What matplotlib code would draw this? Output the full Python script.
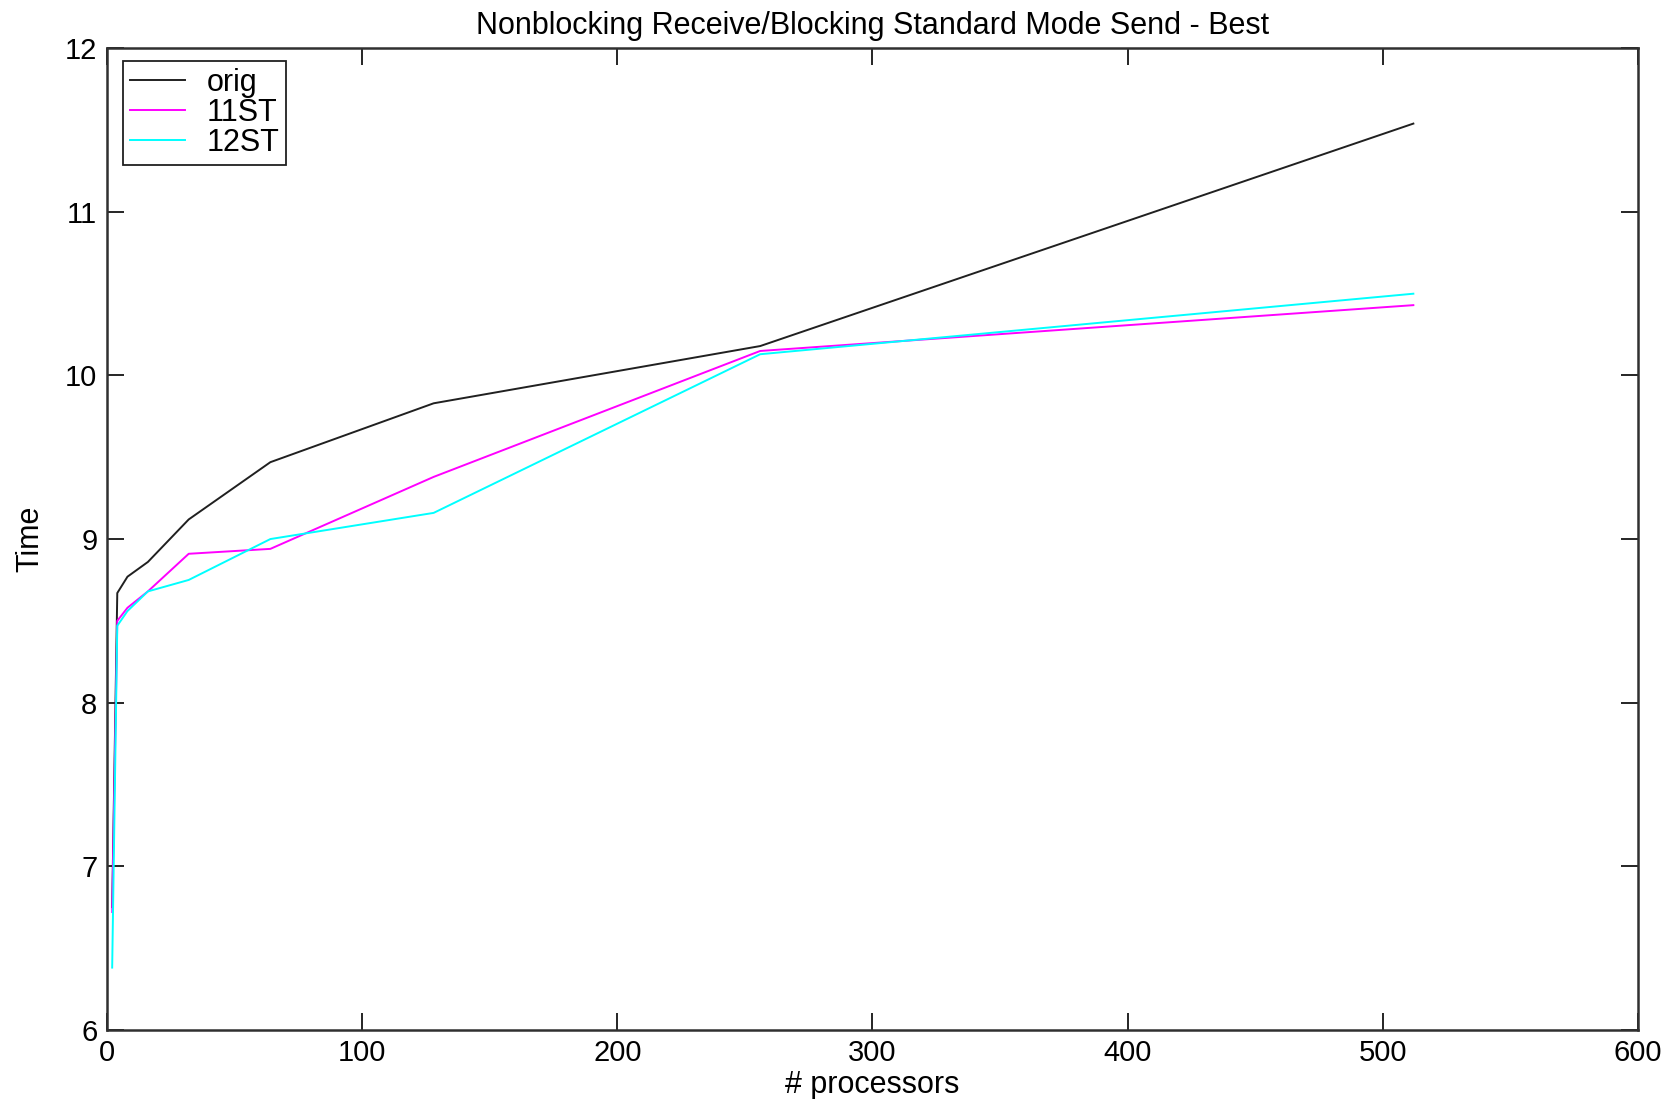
import matplotlib
matplotlib.use("Agg")
import matplotlib.pyplot as plt

# data
procs = [2, 4, 8, 16, 32, 64, 128, 256, 512]
orig = [6.75, 8.67, 8.77, 8.86, 9.12, 9.47, 9.83, 10.18, 11.54]
st11 = [6.72, 8.50, 8.58, 8.68, 8.91, 8.94, 9.38, 10.15, 10.43]
st12 = [6.38, 8.47, 8.56, 8.68, 8.75, 9.00, 9.16, 10.13, 10.50]

xticks = [0, 100, 200, 300, 400, 500, 600]
yticks = [6, 7, 8, 9, 10, 11, 12]

plt.rcParams['font.family'] = ['Liberation Sans', 'DejaVu Sans']

fig = plt.figure(figsize=(16.73, 10.99), dpi=100)
ax = fig.add_axes([0.064, 0.063, 0.915, 0.893])

ax.plot(procs, orig, color='#202020', lw=1.4, label='orig')
ax.plot(procs, st11, color='#ff00ff', lw=1.4, label='11ST')
ax.plot(procs, st12, color='#00ffff', lw=1.4, label='12ST')

ax.set_xlim(0, 600)
ax.set_ylim(6, 12)
ax.set_xticks(xticks)
ax.set_yticks(yticks)
ax.tick_params(direction='in', length=12, width=1.2, top=True, right=True,
               labelsize=21, pad=7)
for s in ax.spines.values():
    s.set_linewidth(1.8)
    s.set_color('#303030')

ax.set_title('Nonblocking Receive/Blocking Standard Mode Send - Best',
             fontsize=22, pad=10)
ax.set_xlabel('# processors', fontsize=22, labelpad=2)
ax.set_ylabel('Time', fontsize=22, labelpad=14)

leg = ax.legend(loc='upper left', bbox_to_anchor=(0.0105, 0.987), fontsize=22,
                fancybox=False, framealpha=1, edgecolor='#202020',
                handlelength=1.8, handletextpad=0.7, borderpad=0.22,
                borderaxespad=0, labelspacing=0.0)
leg.get_frame().set_linewidth(1.3)

fig.savefig('out.png', dpi=100)
